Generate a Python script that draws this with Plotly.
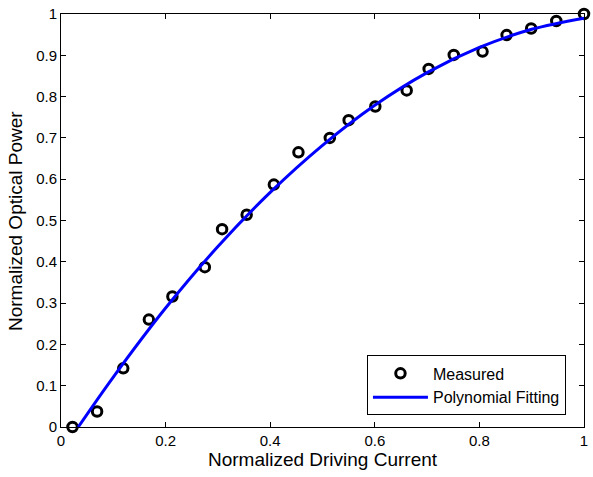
import plotly.graph_objects as go

meas_x = [0.022, 0.069, 0.119, 0.168, 0.213, 0.275, 0.308, 0.355, 0.407, 0.454,
          0.514, 0.550, 0.601, 0.661, 0.703, 0.751, 0.806, 0.852, 0.899, 0.947, 1.0]
meas_y = [0.0, 0.0375, 0.142, 0.260, 0.316, 0.387, 0.479, 0.514, 0.587, 0.665,
          0.700, 0.743, 0.776, 0.815, 0.867, 0.901, 0.909, 0.949, 0.965, 0.983, 1.0]

# Polynomial fitting curve
fit_x = [0.033, 0.1, 0.2, 0.3, 0.4, 0.5, 0.6, 0.7, 0.8, 0.9, 1.0]
fit_y = [0.0, 0.121, 0.288, 0.437, 0.568, 0.682, 0.779, 0.858, 0.919, 0.963, 0.99]

x_ticks = [0, 0.2, 0.4, 0.6, 0.8, 1]
x_labels = ["0", "0.2", "0.4", "0.6", "0.8", "1"]
y_ticks = [0, 0.1, 0.2, 0.3, 0.4, 0.5, 0.6, 0.7, 0.8, 0.9, 1]
y_labels = ["0", "0.1", "0.2", "0.3", "0.4", "0.5", "0.6", "0.7", "0.8", "0.9", "1"]

FONT = "Liberation Sans, Arial, sans-serif"

fig = go.Figure()
fig.add_trace(go.Scatter(
    x=meas_x, y=meas_y, mode="markers", name="Measured",
    marker=dict(symbol="circle-open", size=9.5, color="black",
                line=dict(width=3, color="black")),
    cliponaxis=False,
))
fig.add_trace(go.Scatter(
    x=fit_x, y=fit_y, mode="lines", name="Polynomial Fitting",
    line=dict(color="#0000ff", width=3, shape="spline"),
    cliponaxis=False,
))

axis_common = dict(
    showgrid=False, zeroline=False, showline=True, linecolor="black", linewidth=1,
    mirror="ticks", ticks="inside", ticklen=5, tickcolor="black", tickwidth=1,
    tickfont=dict(family=FONT, size=15, color="black"),
)

fig.update_layout(
    width=593, height=477,
    margin=dict(l=61, r=5, t=11, b=50),
    paper_bgcolor="white", plot_bgcolor="white",
    font=dict(family=FONT, color="black"),
    xaxis=dict(range=[0, 1], tickvals=x_ticks, ticktext=x_labels,
               title=dict(text="Normalized Driving Current", font=dict(size=19), standoff=2),
               **axis_common),
    yaxis=dict(range=[0, 1], tickvals=y_ticks, ticktext=y_labels,
               **axis_common),
    legend=dict(x=0.585, y=0.028, xanchor="left", yanchor="bottom",
                bgcolor="white", bordercolor="black", borderwidth=1,
                font=dict(family=FONT, size=16, color="black"),
                itemwidth=55, tracegroupgap=0),
    showlegend=True,
    annotations=[dict(text="Normalized Optical Power", textangle=-90,
                      xref="paper", yref="paper", x=-0.087, y=0.5,
                      xanchor="center", yanchor="middle", showarrow=False,
                      font=dict(family=FONT, size=19, color="black"))],
)

fig.write_html("out.html")
